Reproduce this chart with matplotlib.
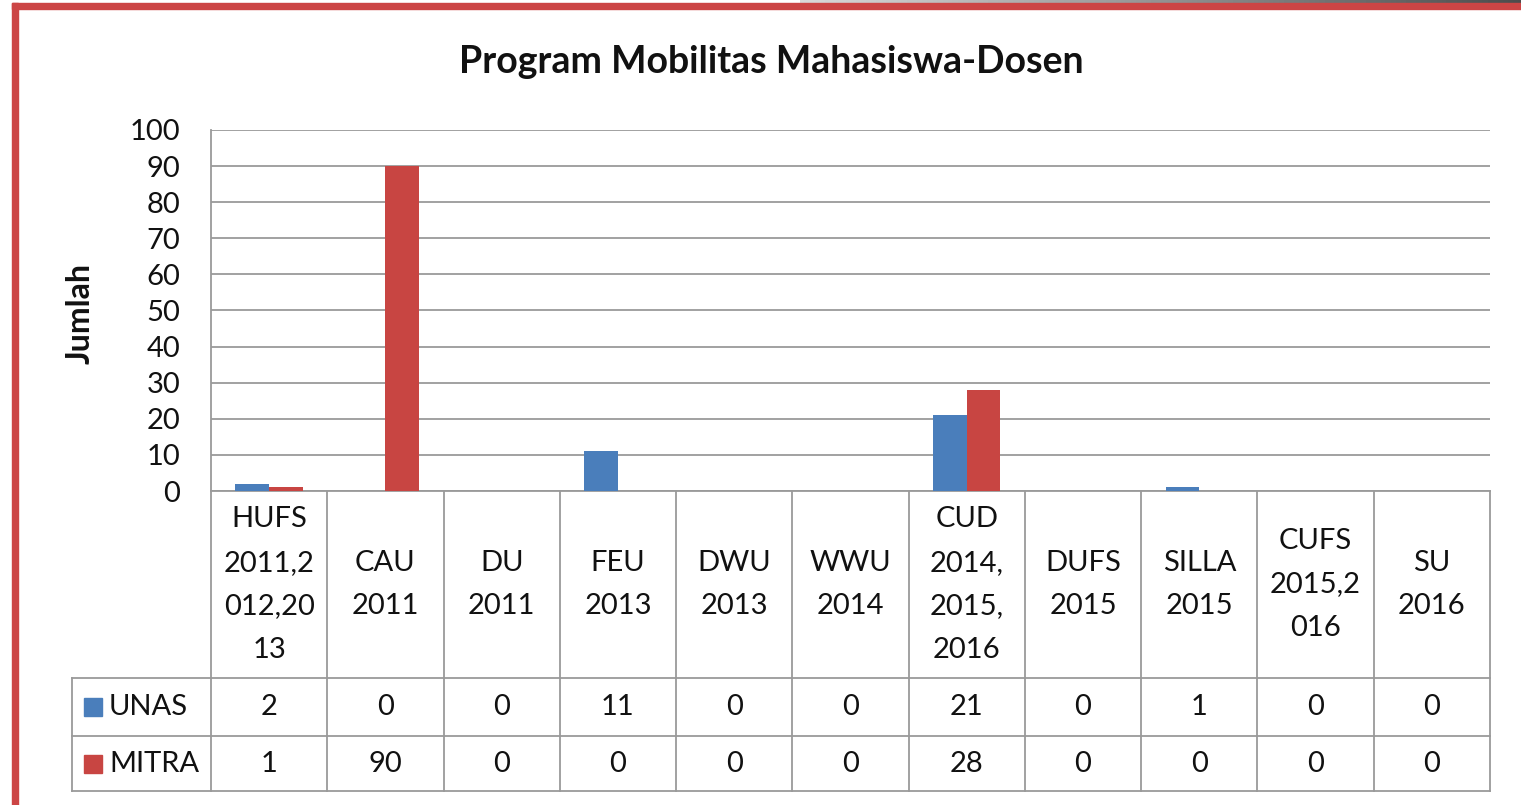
import numpy as np
import matplotlib
matplotlib.use("Agg")
import matplotlib.pyplot as plt
from matplotlib.patches import Rectangle

plt.rcParams['font.family'] = ['Lato', 'DejaVu Sans']

# data
categories = ["HUFS\n2011,2\n012,20\n13", "CAU\n2011", "DU\n2011", "FEU\n2013", "DWU\n2013",
              "WWU\n2014", "CUD\n2014,\n2015,\n2016", "DUFS\n2015", "SILLA\n2015",
              "CUFS\n2015,2\n016", "SU\n2016"]
series_names = ["UNAS", "MITRA"]
unas = [2, 0, 0, 11, 0, 0, 21, 0, 1, 0, 0]
mitra = [1, 90, 0, 0, 0, 0, 28, 0, 0, 0, 0]
colors = ["#4A7EBB", "#C84542"]

W, H = 1521, 805
fig = plt.figure(figsize=(W / 100, H / 100), dpi=100)

# plot area in pixels: left 211, right 1490, top 130, bottom 491
ax = fig.add_axes([211 / W, 1 - 491 / H, 1279 / W, 361 / H])
x = np.arange(len(categories))
bw = 0.29
ax.bar(x - bw / 2, unas, bw, color=colors[0], zorder=3)
ax.bar(x + bw / 2, mitra, bw, color=colors[1], zorder=3)
ax.set_xlim(-0.5, len(categories) - 0.5)
ax.set_ylim(0, 100)
ax.set_yticks(range(0, 101, 10))
ax.yaxis.grid(True, color="#9a9a9a", lw=1.3)
ax.set_xticks([])
ax.tick_params(axis="y", length=0, labelsize=21, pad=22, colors="#111111")
for s in ["top", "right", "bottom"]:
    ax.spines[s].set_visible(False)
ax.spines["left"].set_color("#9a9a9a")
ax.spines["left"].set_linewidth(1.3)
fig.text(80 / W, 1 - 313 / H, "Jumlah", rotation=90, ha="center", va="center",
         fontsize=23, fontweight="bold", color="#111111")

# data table below the axis
tr = ax.get_xaxis_transform()
lc = "#9a9a9a"
y_cat, y_unas, y_mitra = -0.518, -0.679, -0.831
colw = 1279 / len(categories)
x_leg = -0.5 + (72 - 211) / colw
n = len(categories)
ax.plot([-0.5, n - 0.5], [0, 0], transform=tr, color=lc, lw=1.3, clip_on=False)
for yy in [y_cat, y_unas, y_mitra]:
    ax.plot([x_leg, n - 0.5], [yy, yy], transform=tr, color=lc, lw=1.3, clip_on=False)
for b in np.arange(n + 1) - 0.5:
    ax.plot([b, b], [0, y_mitra], transform=tr, color=lc, lw=1.3, clip_on=False)
ax.plot([x_leg, x_leg], [y_cat, y_mitra], transform=tr, color=lc, lw=1.3, clip_on=False)

for i, lab in enumerate(categories):
    ax.text(i, y_cat / 2, lab, transform=tr, ha="center", va="center",
            fontsize=21, linespacing=1.83, color="#111111", clip_on=False)
rows = [(unas, y_cat, y_unas), (mitra, y_unas, y_mitra)]
for k, (vals, top, bot) in enumerate(rows):
    ym = (top + bot) / 2
    for i, v in enumerate(vals):
        ax.text(i, ym, str(v), transform=tr, ha="center", va="center",
                fontsize=21, color="#111111", clip_on=False)
    ax.add_patch(Rectangle((x_leg + 12 / colw, ym - 0.025), 18 / colw, 0.05, transform=tr,
                           color=colors[k], clip_on=False))
    ax.text(x_leg + 37 / colw, ym, series_names[k], transform=tr, ha="left", va="center",
            fontsize=21, color="#111111", clip_on=False)

fig.text(771 / W, 1 - 62 / H, "Program Mobilitas Mahasiswa-Dosen", ha="center",
         va="center", fontsize=27, fontweight="bold", color="#111111")

# frame: gray gradient strip at top, red border
gax = fig.add_axes([800 / W, 1 - 3 / H, 721 / W, 3 / H])
gax.imshow(np.linspace(0.85, 0.3, 200)[None, :], cmap="gray", vmin=0, vmax=1,
           aspect="auto", extent=[0, 1, 0, 1])
gax.axis("off")
fig.add_artist(Rectangle((12 / W, 0), 5.5 / W, 1 - 3 / H, transform=fig.transFigure,
                         color="#CC4545"))
fig.add_artist(Rectangle((12 / W, 1 - 9 / H), 1 - 12 / W, 6 / H, transform=fig.transFigure,
                         color="#CC4545"))

fig.savefig("out.png", dpi=100)
